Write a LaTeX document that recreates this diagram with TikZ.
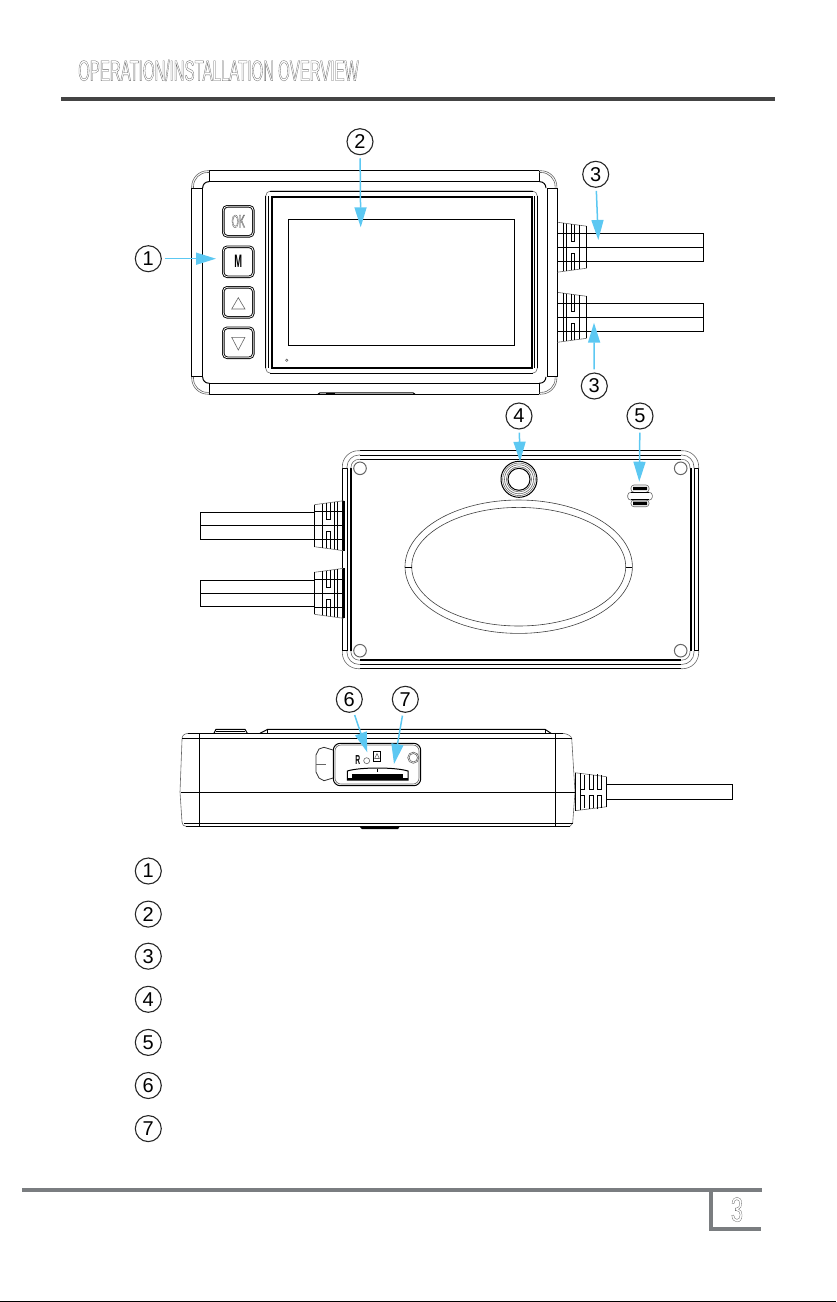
\documentclass[tikz,border=0pt]{standalone}
\usepackage{fontspec}
\setmainfont{Liberation Sans}
\newfontfamily\headfont[FakeStretch=0.517]{Liberation Sans}
\newfontfamily\pagefont[FakeStretch=0.62]{Liberation Sans}
\usetikzlibrary{arrows.meta, positioning}
\definecolor{calloutblue}{HTML}{5CC8F2}
\definecolor{rulegrey}{HTML}{7A7D80}
\definecolor{headgrey}{HTML}{444444}
\newcommand{\outlinetext}[1]{\special{pdf:code 1 Tr 0.3 w}#1\special{pdf:code 0 Tr}}
\tikzset{
  num/.style = {circle, draw=black!85, line width=1.1pt, minimum size=26pt, inner sep=0pt, font=\fontsize{20}{20}\selectfont},
  callout/.style = {draw=calloutblue, line width=1.5pt, shorten <=3pt, -{Triangle[length=20pt,width=12pt]}},
  btn/.style = {rectangle, rounded corners=4pt, draw=black, line width=0.9pt, double, double distance=0.8pt, minimum width=30pt, minimum height=30pt, inner sep=0pt, font=\headfont\fontsize{18}{18}\selectfont},
  thinline/.style = {draw=black, line width=1pt},
  thickline/.style = {draw=black, line width=1.6pt},
  greyline/.style = {draw=black!60, line width=0.6pt},
  gland/.pic = {
    \draw[greyline] (0,-25) -- (29.4,-21);
    \draw[greyline] (0,25) -- (29.4,21);
    \draw[thickline] (0,-25) -- (0,25);
    \foreach \ribx/\ribtop in {6/24, 9.3/23.5, 21.7/22, 29.4/21} {
      \draw[thinline] (\ribx,-\ribtop) -- (\ribx,\ribtop);
    }
    \draw[thinline] (13.7,-23) -- (13.7,-6) -- (17,-6) -- (17,-22.5);
    \draw[thinline] (13.7,23) -- (13.7,6) -- (17,6) -- (17,22.5);
    \foreach \riby in {-14,0,14} {
      \draw[thinline] (0,\riby) -- (29.4,\riby);
    }
  }
}

\begin{document}
\begin{tikzpicture}[x=1pt, y=-1pt]
  \useasboundingbox (0,0) rectangle (836,1302);

  % Page header
  \node (title) [anchor=base west, inner sep=0pt, text=black!60, font=\headfont\fontsize{29}{29}\selectfont] at (78,80.7) {\outlinetext{OPERATION/INSTALLATION OVERVIEW}};
  \fill[headgrey] (61,96.7) rectangle (775,101);

  % Front view: body
  \draw[thinline] (209.3,170.7) -- (539.3,170.7) (209.3,181.7) -- (539.3,181.7);
  \draw[thinline] (209.3,383.3) -- (539.3,383.3) (209.3,394.2) -- (539.3,394.2);
  \draw[thinline] (209.3,170.7) -- (209.3,181.7) (539.3,170.7) -- (539.3,181.7);
  \draw[thinline] (209.3,383.3) -- (209.3,394.2) (539.3,383.3) -- (539.3,394.2);
  \draw[thinline] (191.7,188) rectangle (202.7,376.7);
  \draw[thinline] (547.3,188) rectangle (557.3,376.7);
  \foreach \cx/\cy/\sx/\sy in {209.3/170.7/1/1, 539.3/170.7/-1/1, 209.3/394.2/1/-1, 539.3/394.2/-1/-1} {
    \draw[greyline, rounded corners=16pt] (\cx,\cy) -| (\cx-\sx*17.6,\cy+\sy*17.4);
    \draw[greyline, rounded corners=14pt] (\cx,\cy+\sy*1.8) -| (\cx-\sx*15.8,\cy+\sy*17.4);
    \draw[thinline, rounded corners=6pt] (\cx,\cy+\sy*11) -| (\cx-\sx*6.6,\cy+\sy*17.4);
  }
  \draw[thinline] (318,394.2) -- (320,392.8) -- (413,392.8) -- (415,394.2);
  \fill[black] (326,392.6) rectangle (335,394.6);

  % Front view: screen
  \draw[greyline, rounded corners=5pt] (265.7,191) rectangle (537.3,373.3);
  \draw[thinline] (265.7,196) -- (265.7,368) (537.3,196) -- (537.3,368);
  \draw[thinline] (270,191) -- (533,191) (270,373.3) -- (533,373.3);
  \draw[thinline] (268.6,196) -- (268.6,368) (534.6,196) -- (534.6,368);
  \draw[thickline] (271.7,196.7) rectangle (531.7,367.7);
  \node (screen) [draw=black, line width=1pt, minimum width=226pt, minimum height=126pt, inner sep=0pt] at (401.3,282.3) {};
  \draw[greyline] (286.7,360.3) circle (1.2);

  % Front view: buttons
  \node (btnok) [btn, text=black!70] at (238.3,221.3) {\outlinetext{OK}};
  \node (btnm) [btn, below=9.6pt of btnok, font=\headfont\bfseries\fontsize{18}{18}\selectfont] {M};
  \node (btnup) [btn, below=9.6pt of btnm] {};
  \node (btndown) [btn, below=9.6pt of btnup] {};
  \draw[greyline] (238.3,297.7) -- (245,309) -- (231.7,309) -- cycle;
  \draw[greyline] (231.7,337.3) -- (245,337.3) -- (238.3,350) -- cycle;

  % Front view: cables
  \draw[thinline] (586.7,233.3) -- (703.3,233.3) -- (703.3,261) -- (586.7,261) (586.7,247.2) -- (703.3,247.2);
  \draw[thinline] (586.7,303.3) -- (703.3,303.3) -- (703.3,331.3) -- (586.7,331.3) (586.7,317.3) -- (703.3,317.3);
  \pic at (557.3,247.2) {gland};
  \pic at (557.3,317.3) {gland};

  % Back view: body
  \foreach \liney in {450.7,455,664.3,668.7} {
    \draw[thinline] (360,\liney) -- (681,\liney);
  }
  \draw[thickline] (360,459.6) -- (681,459.6) (360,660) -- (681,660);
  \draw[thinline] (342.3,468.3) rectangle (347.3,650.7);
  \draw[thickline] (350.7,468.3) -- (350.7,650.7);
  \draw[thinline] (694.7,468.3) rectangle (698.7,650.7);
  \draw[thickline] (690.7,468.3) -- (690.7,650.7);
  \foreach \cx/\cy/\sx/\sy in {360/450.7/1/1, 681/450.7/-1/1, 360/668.7/1/-1, 681/668.7/-1/-1} {
    \draw[greyline, rounded corners=16pt] (\cx,\cy) -| (\cx-\sx*17.7,\cy+\sy*17.6);
    \draw[greyline, rounded corners=12pt] (\cx,\cy+\sy*4.3) -| (\cx-\sx*13,\cy+\sy*17.6);
    \draw[greyline, rounded corners=8pt] (\cx,\cy+\sy*8.6) -| (\cx-\sx*9,\cy+\sy*17.6);
  }
  \foreach \screwx/\screwy in {360/468.3, 680.7/468.3, 360/650.7, 680.7/650.7} {
    \draw[draw=black!60, fill=white, line width=1pt] (\screwx,\screwy) circle (6.3);
  }

  % Back view: lens, speaker, window
  \draw[thinline] (519,479.3) circle (18);
  \draw[greyline] (519,479.3) circle (16.3);
  \draw[greyline] (519,479.3) circle (14.5);
  \draw[greyline] (519,479.3) circle (12.6);
  \draw[thinline] (519,479.3) circle (11);
  \draw[greyline, rounded corners=3pt] (631,485) rectangle (649,492.3);
  \draw[greyline, rounded corners=3pt, fill=white] (627.7,492.3) rectangle (652.3,500);
  \draw[greyline, rounded corners=3pt] (631,500) rectangle (649,506.7);
  \fill[black] (633,486.8) rectangle (647,490.2) (633,501.6) rectangle (647,505);
  \draw[thinline] (631,492.8) -- (649,492.8) (631,499.5) -- (649,499.5);
  \draw[black!75, line width=0.6pt] (518.7,566.7) ellipse (113.7 and 66.7);
  \draw[black!75, line width=0.6pt] (518.7,566.7) ellipse (107 and 59.3);
  \draw[thinline] (405,567) -- (411.7,567) (625.7,567) -- (632.4,567);

  % Back view: cables
  \draw[thinline] (314.3,512.3) -- (200,512.3) -- (200,539) -- (314.3,539) (200,525.7) -- (314.3,525.7);
  \draw[thinline] (314.3,580) -- (200,580) -- (200,606.7) -- (314.3,606.7) (200,593.3) -- (314.3,593.3);
  \pic[xscale=-1] at (343.7,525.7) {gland};
  \pic[xscale=-1] at (343.7,593.3) {gland};

  % Side view: body
  \draw[thinline] (214,733.3) -- (216,729.3) -- (245,729.3) -- (247.3,733.3);
  \draw[thinline] (216,731) -- (245,731);
  \draw[thinline] (260,733.3) -- (267.7,729.3) -- (545,729.3) -- (551,733.3);
  \draw[thinline] (267.7,729.3) -- (267.7,733.3) (545,729.3) -- (545,733.3);
  \draw[thinline] (188,733.3) -- (563,733.3);
  \draw[greyline] (188,733.3) .. controls (183,734) and (182,736) .. (182,740) -- (180,792) -- (182,822) .. controls (182,825) and (184,826.3) .. (186,826.3);
  \draw[greyline] (563,733.3) .. controls (568,734) and (571,736) .. (571.7,738.3) -- (575,792) -- (572.7,823) -- (570,826.3);
  \draw[thinline] (182,738.3) -- (571.7,738.3);
  \draw[thinline] (181,792.3) -- (575,792.3);
  \draw[thinline] (184,823.3) -- (572.7,823.3) (186,826.3) -- (570,826.3);
  \draw[thinline] (199.3,733.3) -- (199.3,826.3) (555.3,733.3) -- (555.3,826.3);
  \fill[black] (359.3,826.3) -- (400,826.3) -- (398,829) -- (362,829) -- cycle;

  % Side view: card panel
  \draw[black!80, line width=0.8pt, fill=white] (333,750) -- (324,747.3) -- (319,749) -- (316,755) -- (316,772) -- (319,778) -- (324,780.7) -- (333,778);
  \draw[greyline] (316,764) -- (326,764);
  \draw[thinline, fill=white, rounded corners=7pt] (333.3,743.3) rectangle (420.7,785.7);
  \draw[greyline, rounded corners=6pt] (335,745) rectangle (419,784);
  \node (resetlabel) [inner sep=0pt, font=\headfont\bfseries\fontsize{13}{13}\selectfont] at (357.7,760.5) {R};
  \draw[greyline] (366.7,760.7) circle (3);
  \draw[thinline] (373.3,751.7) rectangle (380.7,761);
  \draw[greyline] (377,753.5) -- (379.3,758.5) -- (374.7,758.5) -- cycle;
  \draw[greyline] (413.3,757.7) circle (5.6);
  \draw[greyline] (413.3,757.7) circle (4.2);
  \draw[thinline, fill=white] (347.3,771) .. controls (360,767) and (395,767) .. (408,771) -- (408,780) -- (347.3,780) -- cycle;
  \fill[black] (351.7,774) rectangle (403.3,779.6);
  \fill[black] (347.3,778) rectangle (408,780);
  \draw[thinline] (377,769) -- (377,772);

  % Side view: cable
  \draw[thinline] (606.7,784.3) -- (732.3,784.3) -- (732.3,799.3) -- (606.7,799.3);
  \draw[greyline] (575,772.7) -- (606.7,776.7);
  \draw[greyline] (575,810.7) -- (606.7,806.7);
  \draw[thinline] (575,772.7) -- (575,810.7);
  \draw[thinline] (580.7,773.4) -- (580.7,810) (606.7,776.7) -- (606.7,806.7);
  \foreach \slotx in {580.7,589.3,597.3} {
    \draw[thinline] (\slotx,774) -- (\slotx,789) -- (\slotx+4,789) -- (\slotx+4,775);
    \draw[thinline] (\slotx,795) -- (\slotx+4,795) -- (\slotx+4,808);
    \draw[thinline] (\slotx,795) -- (\slotx,809);
  }

  % Callout numbers
  \node (num1) [num] at (148.3,258.7) {1};
  \node (num2) [num] at (360,141.7) {2};
  \node (num3a) [num] at (595.7,174.3) {3};
  \node (num3b) [num] at (594.3,386) {3};
  \node (num4) [num] at (519,416) {4};
  \node (num5) [num] at (640,416) {5};
  \node (num6) [num] at (349.3,699.3) {6};
  \node (num7) [num] at (405.3,699.3) {7};

  % Callout targets
  \coordinate (tipbuttons) at (216,258.7);
  \coordinate (tipscreen) at (360.7,227.3);
  \coordinate (tipcablea) at (598.3,240);
  \coordinate (tipcableb) at (594,322.7);
  \coordinate (tiplens) at (520,461.7);
  \coordinate (tipspeaker) at (639.3,481.7);
  \coordinate (tipreset) at (367.3,752.3);
  \coordinate (tipcard) at (394,764);

  % Draw callouts
  \draw[callout] (num1) -- (tipbuttons);
  \draw[callout] (num2) -- (tipscreen);
  \draw[callout] (num3a) -- (tipcablea);
  \draw[callout] (num3b) -- (tipcableb);
  \draw[callout] (num4) -- (tiplens);
  \draw[callout] (num5) -- (tipspeaker);
  \draw[callout] (num6) -- (tipreset);
  \draw[callout] (num7) -- (tipcard);

  % Legend
  \node (leg1) [num] at (148.3,871) {1};
  \node (leg2) [num, below=16pt of leg1] {2};
  \node (leg3) [num, below=15pt of leg2] {3};
  \node (leg4) [num, below=16pt of leg3] {4};
  \node (leg5) [num, below=16pt of leg4] {5};
  \node (leg6) [num, below=16pt of leg5] {6};
  \node (leg7) [num, below=16pt of leg6] {7};

  % Page footer
  \fill[rulegrey] (22,1188.3) rectangle (762,1191.7);
  \fill[rulegrey] (709.3,1188.3) rectangle (713,1231);
  \fill[rulegrey] (709.3,1227.3) rectangle (761,1231);
  \node (pageno) [inner sep=0pt, text=black!60, font=\pagefont\fontsize{35}{35}\selectfont] at (737,1209.5) {\outlinetext{3}};
  \fill[black] (0,1300.8) rectangle (836,1302);
\end{tikzpicture}
\end{document}
